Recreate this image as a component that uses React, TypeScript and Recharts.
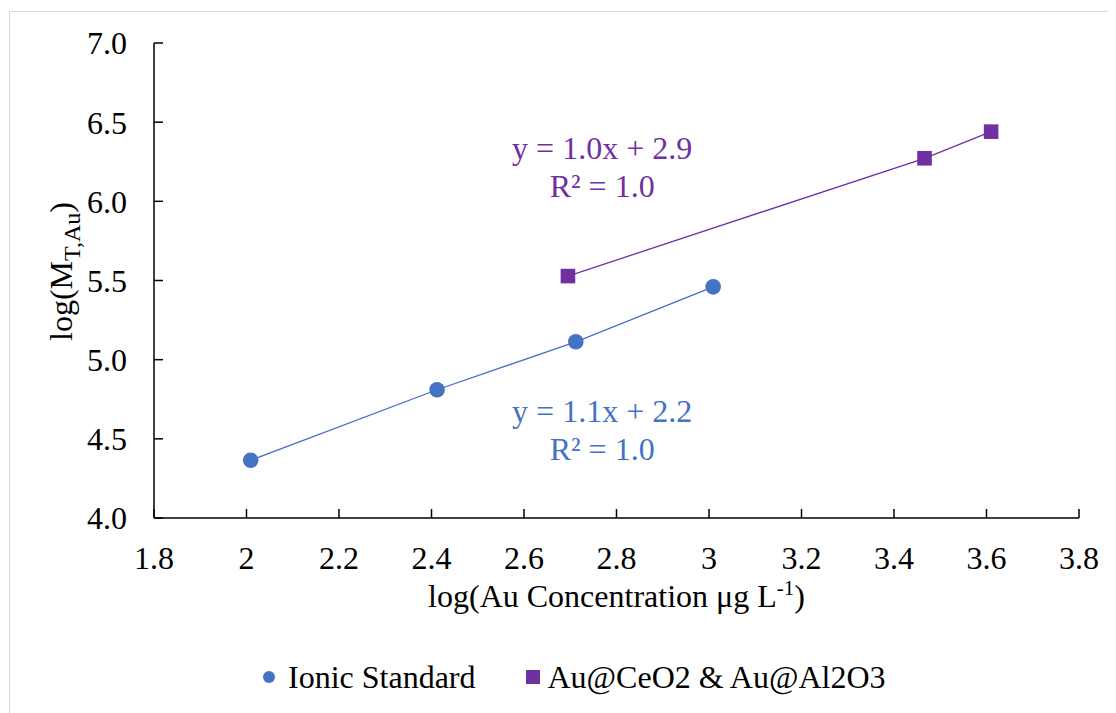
import React from 'react';
import {
  ScatterChart,
  Scatter,
  XAxis,
  YAxis,
  Legend,
  ReferenceDot,
} from 'recharts';

// ---- data ----
const ionicX = [2.009, 2.412, 2.712, 3.009];
const ionicY = [4.365, 4.81, 5.113, 5.46];
const auX = [2.695, 3.466, 3.61];
const auY = [5.528, 6.272, 6.44];

const xTicks = [1.8, 2, 2.2, 2.4, 2.6, 2.8, 3, 3.2, 3.4, 3.6, 3.8];
const yTicks = [4, 4.5, 5, 5.5, 6, 6.5, 7];

const seriesNames = ['Ionic Standard', 'Au@CeO2 & Au@Al2O3'];
const ionicEq = ['y = 1.1x + 2.2', 'R² = 1.0'];
const auEq = ['y = 1.0x + 2.9', 'R² = 1.0'];
// anchor of equation labels (data units: centre x, first-line baseline y)
const ionicEqPos = { x: 2.769, y: 4.606 };
const auEqPos = { x: 2.769, y: 6.267 };

const BLUE = '#4472C4';
const PURPLE = '#7030A0';
const FONT = '"Liberation Serif", "Times New Roman", serif';

const ionicData = ionicX.map((x, i) => ({ x, y: ionicY[i] }));
const auData = auX.map((x, i) => ({ x, y: auY[i] }));

const CircleShape = (props: any) => {
  const { cx, cy } = props;
  if (cx == null || cy == null) return null;
  return <circle cx={cx} cy={cy} r={7.8} fill={BLUE} />;
};

const SquareShape = (props: any) => {
  const { cx, cy } = props;
  if (cx == null || cy == null) return null;
  return <rect x={cx - 7.3} y={cy - 7.3} width={14.6} height={14.6} fill={PURPLE} />;
};

const makeEqLabel = (lines: string[], color: string) => (props: any) => {
  const vb = props.viewBox || {};
  const x = vb.x + (vb.width || 0) / 2;
  const y = vb.y + (vb.height || 0) / 2;
  return (
    <text x={x} y={y} textAnchor="middle" fill={color} fontFamily={FONT} fontSize={32}>
      <tspan x={x} dy={0}>{lines[0]}</tspan>
      <tspan x={x} dy={38}>{lines[1]}</tspan>
    </text>
  );
};

const XLabel = (props: any) => {
  const vb = props.viewBox || {};
  const cx = vb.x + vb.width / 2;
  const y = vb.y + 89;
  return (
    <text x={cx} y={y} textAnchor="middle" fill="#000" fontFamily={FONT} fontSize={32}>
      log(Au Concentration μg L
      <tspan dy={-12} fontSize={21}>-1</tspan>
      <tspan dy={12}>)</tspan>
    </text>
  );
};

const YLabel = (props: any) => {
  const vb = props.viewBox || {};
  const x = 64;
  const y = vb.y + vb.height / 2 - 9;
  return (
    <text
      x={x}
      y={y}
      textAnchor="middle"
      fill="#000"
      fontFamily={FONT}
      fontSize={32}
      transform={`rotate(-90, ${x}, ${y})`}
    >
      log(M
      <tspan dy={8} fontSize={24}>T,Au</tspan>
      <tspan dy={-8}>)</tspan>
    </text>
  );
};

const renderLegend = (props: any) => {
  const payload = [...(props.payload || [])].sort(
    (a: any, b: any) => seriesNames.indexOf(a.value) - seriesNames.indexOf(b.value)
  );
  return (
    <div
      style={{
        display: 'flex',
        alignItems: 'center',
        height: 40,
        paddingLeft: 255,
        fontFamily: FONT,
        fontSize: 32,
        color: '#000',
        whiteSpace: 'nowrap',
      }}
    >
      {payload.map((e: any, i: number) => (
        <div key={i} style={{ display: 'flex', alignItems: 'center', marginRight: i === 0 ? 50 : 0 }}>
          {e.type === 'circle' ? (
            <svg width={12} height={12} style={{ marginRight: 13 }}>
              <circle cx={6} cy={6} r={6} fill={e.color} />
            </svg>
          ) : (
            <svg width={14} height={14} style={{ marginRight: 8 }}>
              <rect x={0} y={0} width={14} height={14} fill={e.color} />
            </svg>
          )}
          <span>{e.value}</span>
        </div>
      ))}
    </div>
  );
};

const tickStyle = { fill: '#000', fontSize: 32, fontFamily: FONT };

export default function App() {
  return (
    <div style={{ position: 'relative', width: 1108, height: 705, overflow: 'hidden' }}>
      <div
        style={{
          position: 'absolute',
          left: 1,
          top: 3,
          width: 2000,
          height: 2000,
          borderTop: '1px solid #d9d9d9',
          borderLeft: '1px solid #d9d9d9',
        }}
      />
      <ScatterChart
        width={1108}
        height={705}
        margin={{ top: 35, right: 37, left: 0, bottom: 16 }}
      >
        <XAxis
          type="number"
          dataKey="x"
          domain={[1.8, 3.8]}
          ticks={xTicks}
          allowDataOverflow
          interval={0}
          height={139}
          tickSize={-9}
          tickMargin={37}
          tick={tickStyle}
          axisLine={{ stroke: '#000', strokeWidth: 1.5 }}
          tickLine={{ stroke: '#000', strokeWidth: 1.5 }}
          label={<XLabel />}
        />
        <YAxis
          type="number"
          dataKey="y"
          domain={[4, 7]}
          ticks={yTicks}
          allowDataOverflow
          interval={0}
          width={146}
          tickSize={-9}
          tickMargin={36}
          tick={tickStyle}
          tickFormatter={(v: number) => v.toFixed(1)}
          axisLine={{ stroke: '#000', strokeWidth: 1.5 }}
          tickLine={{ stroke: '#000', strokeWidth: 1.5 }}
          label={<YLabel />}
        />
        <Legend
          verticalAlign="bottom"
          align="left"
          height={40}
          wrapperStyle={{ left: 0, width: 1108 }}
          content={renderLegend}
        />
        <Scatter
          name={seriesNames[0]}
          data={ionicData}
          fill={BLUE}
          legendType="circle"
          line={{ stroke: BLUE, strokeWidth: 1.3 }}
          shape={<CircleShape />}
          isAnimationActive={false}
        />
        <Scatter
          name={seriesNames[1]}
          data={auData}
          fill={PURPLE}
          legendType="square"
          line={{ stroke: PURPLE, strokeWidth: 1.3 }}
          shape={<SquareShape />}
          isAnimationActive={false}
        />
        <ReferenceDot
          x={auEqPos.x}
          y={auEqPos.y}
          r={0}
          fill="none"
          stroke="none"
          label={makeEqLabel(auEq, PURPLE)}
        />
        <ReferenceDot
          x={ionicEqPos.x}
          y={ionicEqPos.y}
          r={0}
          fill="none"
          stroke="none"
          label={makeEqLabel(ionicEq, BLUE)}
        />
      </ScatterChart>
    </div>
  );
}
